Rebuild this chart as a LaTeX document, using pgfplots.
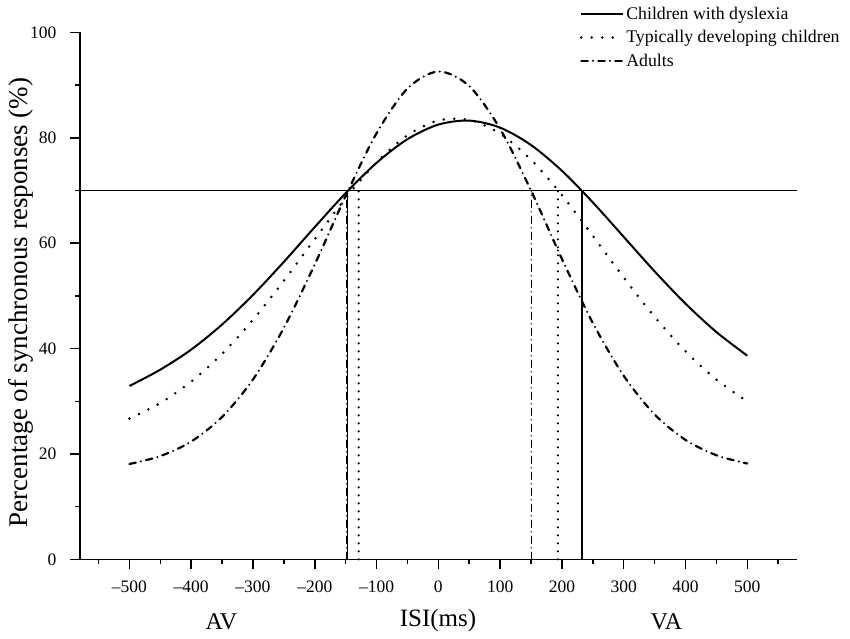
\documentclass[border=0pt]{standalone}
\usepackage{fontspec}
\setmainfont{Liberation Serif}
\usepackage{pgfplots}
\pgfplotsset{compat=1.18}
\begin{document}
\begin{tikzpicture}[x=1pt,y=1pt]
\useasboundingbox (0,0) rectangle (850,638);
\begin{axis}[
  at={(80pt,78.7pt)}, anchor=south west,
  scale only axis, width=716.7pt, height=526.8pt,
  xmin=-580, xmax=580, ymin=0, ymax=100,
  axis x line*=bottom, axis y line*=left,
  axis line style={line width=1.5pt,-},
  tick align=outside, major tick length=10pt, minor tick length=5pt,
  tick style={line width=1.5pt,black},
  xtick={-500,-400,-300,-200,-100,0,100,200,300,400,500},
  xticklabels={{\textendash}500,{\textendash}400,{\textendash}300,{\textendash}200,{\textendash}100,0,100,200,300,400,500},
  minor xtick={-550,-450,-350,-250,-150,-50,50,150,250,350,450,550},
  ytick={0,20,40,60,80,100}, minor ytick={10,30,50,70,90},
  /pgf/number format/assume math mode=true,
  ticklabel style={font=\fontsize{17.5}{20}\selectfont},
  xticklabel style={yshift=-8pt},
  yticklabel style={xshift=-10pt},
  xlabel={ISI(ms)},
  xlabel style={at={(axis description cs:0.4995,-0.128)}, anchor=base, font=\fontsize{25}{30}\selectfont},
  ylabel={Percentage of synchronous responses (\%)},
  ylabel style={at={(axis description cs:-0.07395,0.4875)}, anchor=base, font=\fontsize{27}{32}\selectfont},
  clip=false,
  legend style={at={(axis description cs:0.6972,1.052)}, anchor=north west, draw=none, fill=none,
    inner xsep=0pt, inner ysep=0pt, row sep=5.4pt, font=\fontsize{17.8}{20}\selectfont},
  legend cell align=left,
  legend image code/.code={\draw[#1] (0pt,0pt) -- (41.6pt,0pt);},
]
\addplot[black, line width=2pt, smooth] coordinates {
(-500,32.9) (-450,36.00) (-400,39.81) (-350,44.57) (-300,50.19) (-250,56.47) (-200,63.07) (-150,69.51) (-100,75.26) (-50,79.75) (0,82.52) (50,83.28) (100,81.94) (150,78.64) (200,73.75) (250,67.75) (300,61.21) (350,54.66) (400,48.53) (450,43.14) (500,38.65)};
\addlegendentry{Children with dyslexia}
\addplot[black, line width=2.8pt, line cap=round, dash pattern=on 0pt off 10.5pt, smooth] coordinates {
(-500,26.72) (-450,29.67) (-400,33.73) (-350,39.00) (-300,45.46) (-250,52.87) (-200,60.78) (-150,68.54) (-100,75.37) (-50,80.50) (0,83.30) (50,83.41) (100,80.81) (150,75.84) (200,69.13) (250,61.41) (300,53.49) (350,46.03) (400,39.48) (450,34.11) (500,29.95)};
\addlegendentry{Typically developing children}
\addplot[black, line width=2.2pt, line cap=round, dash pattern=on 6.5pt off 5.25pt on 0pt off 5.25pt, smooth] coordinates {
(-500,18.09) (-450,19.59) (-400,22.36) (-350,27.03) (-300,34.15) (-250,43.95) (-200,55.99) (-150,68.97) (-100,80.87) (-50,89.36) (0,92.60) (50,89.83) (100,81.70) (150,70.00) (200,57.02) (250,44.85) (300,34.84) (350,27.50) (400,22.66) (450,19.75) (500,18.18)};
\addlegendentry{Adults}
% reference line at 70 %
\addplot[black, line width=1.1pt, forget plot] coordinates {(-580,70) (580,70)};
% threshold verticals
\addplot[black, line width=1.4pt, forget plot] coordinates {(-147,0) (-147,70)};
\addplot[black, line width=1.4pt, line cap=round, dash pattern=on 7pt off 4.5pt on 0pt off 4.5pt, forget plot] coordinates {(-149,0) (-149,70)};
\addplot[black, line width=2.4pt, line cap=round, dash pattern=on 0pt off 8pt, forget plot] coordinates {(-129,0) (-129,70)};
\addplot[black, line width=1.4pt, line cap=round, dash pattern=on 7pt off 4.5pt on 0pt off 4.5pt, forget plot] coordinates {(150.3,0) (150.3,70)};
\addplot[black, line width=2.4pt, line cap=round, dash pattern=on 0pt off 8pt, forget plot] coordinates {(193.6,0) (193.6,70)};
\addplot[black, line width=1.2pt, forget plot] coordinates {(232.5,0) (232.5,70)};
\node[anchor=base, font=\fontsize{24}{28}\selectfont] at (axis cs:-351,-13.29) {AV};
\node[anchor=base, font=\fontsize{24}{28}\selectfont] at (axis cs:369,-13.29) {VA};
\end{axis}
\end{tikzpicture}
\end{document}
